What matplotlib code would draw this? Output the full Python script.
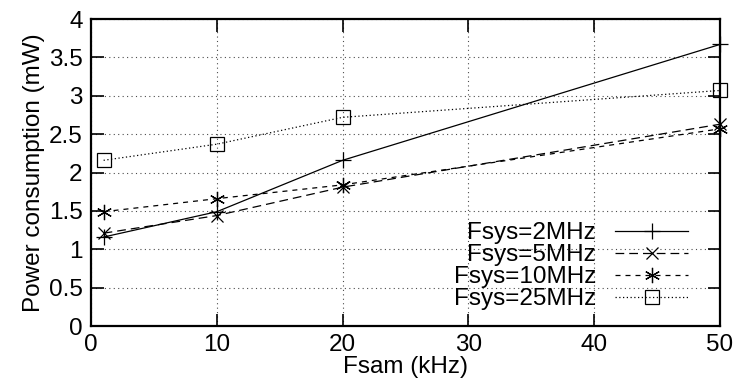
import matplotlib
matplotlib.use("Agg")
import matplotlib.pyplot as plt

fsam = [1, 10, 20, 50]
p_2mhz = [1.16, 1.49, 2.16, 3.67]
p_5mhz = [1.21, 1.44, 1.81, 2.63]
p_10mhz = [1.49, 1.66, 1.84, 2.57]
p_25mhz = [2.16, 2.37, 2.72, 3.07]

labels = ["Fsys=2MHz", "Fsys=5MHz", "Fsys=10MHz", "Fsys=25MHz"]
x_ticks = [0, 10, 20, 30, 40, 50]
y_ticks = [0, 0.5, 1, 1.5, 2, 2.5, 3, 3.5, 4]

plt.rcParams["font.family"] = ["Liberation Sans", "DejaVu Sans"]
plt.rcParams["font.size"] = 17.5

fig = plt.figure(figsize=(7.4, 3.9), dpi=100)
ax = fig.add_axes([0.123, 0.164, 0.850, 0.787])

lw = 0.9
ax.plot(fsam, p_2mhz, color="black", lw=lw, ls="-", marker="+", ms=11, mew=lw, label=labels[0], clip_on=False)
ax.plot(fsam, p_5mhz, color="black", lw=lw, ls=(0, (7, 4)), marker="x", ms=9, mew=lw, label=labels[1], clip_on=False)
ax.plot(fsam, p_10mhz, color="black", lw=lw, ls=(0, (4, 4)), marker=(6, 2, 0), ms=11, mew=lw, label=labels[2],
        clip_on=False)
ax.plot(fsam, p_25mhz, color="black", lw=lw, ls=(0, (1, 2)), marker="s", ms=9.5, mew=lw,
        mfc="none", label=labels[3], clip_on=False)

ax.set_xlim(0, 50)
ax.set_ylim(0, 4)
ax.set_xticks(x_ticks)
ax.set_yticks(y_ticks)
ax.set_yticklabels(["0", "0.5", "1", "1.5", "2", "2.5", "3", "3.5", "4"])
ax.tick_params(direction="in", length=9, width=1.2, top=True, right=True, pad=6)
ax.grid(True, color="black", ls=(0, (1, 3)), lw=0.8, alpha=0.7)
for s in ax.spines.values():
    s.set_linewidth(1.6)

ax.set_xlabel("Fsam (kHz)", labelpad=0)
ax.set_ylabel("Power consumption (mW)", labelpad=3)

leg = ax.legend(loc="lower right", bbox_to_anchor=(0.965, 0.02), frameon=False, markerfirst=False,
                handlelength=3.0, handletextpad=0.8, labelspacing=0.0, borderaxespad=0.0)

fig.savefig("out.png", dpi=100)
